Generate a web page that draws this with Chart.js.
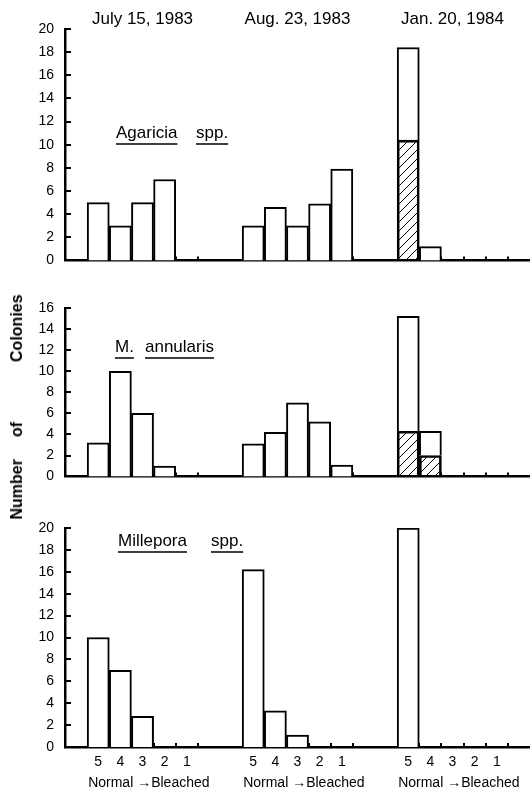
<!DOCTYPE html>
<html>
<head>
<meta charset="utf-8">
<script src="https://cdn.jsdelivr.net/npm/chart.js@4/dist/chart.umd.min.js"></script>
<style>
  body { margin: 0; background: #fff; width: 530px; height: 795px; position: relative; overflow: hidden; }
  .panel { position: absolute; left: 0; }
  #ytitle {
    position: absolute; left: 17px; top: 407px;
    transform: translate(-50%, -50%) rotate(-90deg);
    font: bold 16px "Liberation Sans", Arial, sans-serif; color: #000;
    white-space: nowrap; display: flex;
  }
  #ytitle span.g1 { margin-left: 22px; }
  #ytitle span.g2 { margin-left: 60px; }
</style>
</head>
<body>
<canvas id="agaricia" class="panel" width="530" height="272" style="top:0"></canvas>
<canvas id="annularis" class="panel" width="530" height="216" style="top:272px"></canvas>
<canvas id="millepora" class="panel" width="530" height="307" style="top:488px"></canvas>
<div id="ytitle"><span>Number</span><span class="g1">of</span><span class="g2">Colonies</span></div>
<script>
const categories = ['5', '4', '3', '2', '1'];
const dates = ['July 15, 1983', 'Aug. 23, 1983', 'Jan. 20, 1984'];
const groupLabel = 'Normal \u2192Bleached';

// Agaricia spp.
const agariciaJuly = [5, 3, 5, 7, 0];
const agariciaAug = [3, 4.6, 3, 4.9, 7.9];
const agariciaJan = [18.4, 1.2, 0, 0, 0];
const agariciaJanHatched = [10.4, 0, 0, 0, 0];

// M. annularis
const annularisJuly = [3.2, 10, 6, 1, 0];
const annularisAug = [3.1, 4.2, 7, 5.2, 1.1];
const annularisJan = [15.2, 4.3, 0, 0, 0];
const annularisJanHatched = [4.3, 2.0, 0, 0, 0];

// Millepora spp.
const milleporaJuly = [10, 7, 2.8, 0, 0];
const milleporaAug = [16.2, 3.3, 1.1, 0, 0];
const milleporaJan = [20, 0, 0, 0, 0];

const FONT = '"Liberation Sans", Arial, sans-serif';
const groupStart = [1, 8, 15];

// one empty slot each side, two empty slots between dates
function spread(a, b, c, blank) {
    return [blank, ...a, blank, blank, ...b, blank, blank, ...c, blank];
}
const labels = spread(categories, categories, categories, '');

// zero-height bars would draw a thick stroke on the axis, so skip them
const noZero = arr => arr.map(v => (v > 0 ? v : null));

function hatch(ctx) {
    const c = document.createElement('canvas');
    c.width = 9; c.height = 9;
    const g = c.getContext('2d');
    g.strokeStyle = '#000';
    g.lineWidth = 1;
    g.beginPath();
    g.moveTo(0, 9); g.lineTo(9, 0);
    g.moveTo(-1, 1); g.lineTo(1, -1);
    g.moveTo(8, 10); g.lineTo(10, 8);
    g.stroke();
    return ctx.createPattern(c, 'repeat');
}

const panelDecor = {
    id: 'panelDecor',
    afterDraw(chart, args, opts) {
        const ctx = chart.ctx;
        const x = chart.scales.x, y = chart.scales.y;
        const area = chart.chartArea;
        const half = (x.getPixelForValue(1) - x.getPixelForValue(0)) / 2;
        ctx.save();
        ctx.strokeStyle = '#000';
        ctx.fillStyle = '#000';
        ctx.lineWidth = 2;
        // inward y ticks
        y.ticks.forEach(t => {
            if (t.value === 0) return;
            const py = Math.round(y.getPixelForValue(t.value));
            ctx.beginPath();
            ctx.moveTo(area.left, py);
            ctx.lineTo(area.left + 6, py);
            ctx.stroke();
        });
        // small ticks at slot boundaries
        groupStart.forEach(g0 => {
            for (let k = 1; k <= 5; k++) {
                const px = Math.round(x.getPixelForValue(g0 + k - 1) + half);
                ctx.beginPath();
                ctx.moveTo(px, area.bottom);
                ctx.lineTo(px, area.bottom - 4);
                ctx.stroke();
            }
        });
        // species name, underlined word by word
        ctx.lineWidth = 1.5;
        ctx.font = '17px ' + FONT;
        ctx.textBaseline = 'alphabetic';
        ctx.textAlign = 'left';
        const base = area.top + opts.baseline;
        opts.words.forEach(w => {
            const wx = area.left + w.dx;
            ctx.fillText(w.text, wx, base);
            const tw = ctx.measureText(w.text).width;
            ctx.beginPath();
            ctx.moveTo(wx, base + 6);
            ctx.lineTo(wx + tw, base + 6);
            ctx.stroke();
        });
        if (opts.dates) {
            ctx.font = '17px ' + FONT;
            ctx.textAlign = 'center';
            ctx.textBaseline = 'middle';
            groupStart.forEach((g0, i) => {
                ctx.fillText(dates[i], x.getPixelForValue(g0 + 2), 19);
            });
        }
        if (opts.groupLabels) {
            ctx.font = '14px ' + FONT;
            ctx.textAlign = 'left';
            ctx.textBaseline = 'middle';
            groupStart.forEach(g0 => {
                ctx.fillText(groupLabel, x.getPixelForValue(g0) - half + 1, chart.height - 12);
            });
        }
        ctx.restore();
    }
};

function makePanel(id, july, aug, jan, janHatched, yMax, pad, showX, decor) {
    const el = document.getElementById(id);
    const ctx = el.getContext('2d');
    const janOpen = jan.map((v, i) => v - janHatched[i]);
    const none = [null, null, null, null, null];
    const hatchedRow = spread(none, none, noZero(janHatched), null);
    const openRow = spread(noZero(july), noZero(aug), noZero(janOpen), null);
    const common = {
        borderColor: '#000',
        borderWidth: 2,
        barPercentage: 1,
        categoryPercentage: 1,
        stack: 's'
    };
    return new Chart(ctx, {
        type: 'bar',
        data: {
            labels: labels,
            datasets: [
                { ...common, data: hatchedRow, backgroundColor: hatch(ctx) },
                { ...common, data: openRow, backgroundColor: '#fff' }
            ]
        },
        options: {
            responsive: false,
            animation: false,
            devicePixelRatio: 1,
            layout: { padding: { left: 0, right: 0, top: pad[0], bottom: pad[1] } },
            plugins: {
                legend: { display: false },
                tooltip: { enabled: false },
                panelDecor: decor
            },
            scales: {
                x: {
                    stacked: true,
                    grid: { display: false, tickLength: 0 },
                    border: { display: true, color: '#000', width: 2.5 },
                    ticks: {
                        display: showX,
                        autoSkip: false,
                        maxRotation: 0,
                        padding: 7,
                        color: '#000',
                        font: { family: FONT, size: 14 }
                    },
                    afterFit: s => { s.height = showX ? 48 : 0; }
                },
                y: {
                    stacked: true,
                    min: 0,
                    max: yMax,
                    grid: { display: false },
                    border: { display: true, color: '#000', width: 2.5 },
                    ticks: {
                        stepSize: 2,
                        padding: 3,
                        color: '#000',
                        font: { family: FONT, size: 14 }
                    },
                    afterFit: s => { s.width = 65; }
                }
            }
        },
        plugins: [panelDecor]
    });
}

makePanel('agaricia', agariciaJuly, agariciaAug, agariciaJan, agariciaJanHatched, 20, [29, 8], false, {
    baseline: 109,
    words: [{ text: 'Agaricia', dx: 51 }, { text: 'spp.', dx: 131 }],
    dates: true
});
makePanel('annularis', annularisJuly, annularisAug, annularisJan, annularisJanHatched, 16, [36, 5], false, {
    baseline: 44,
    words: [{ text: 'M.', dx: 50 }, { text: 'annularis', dx: 80 }]
});
makePanel('millepora', milleporaJuly, milleporaAug, milleporaJan, [0, 0, 0, 0, 0], 20, [40, 0], true, {
    baseline: 18,
    words: [{ text: 'Millepora', dx: 53 }, { text: 'spp.', dx: 146 }],
    groupLabels: true
});
</script>
</body>
</html>
